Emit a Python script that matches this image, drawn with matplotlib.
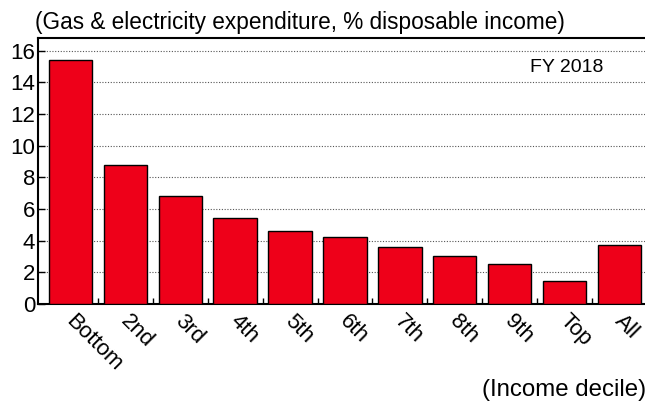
import matplotlib
matplotlib.use('Agg')
import matplotlib.pyplot as plt
import numpy as np

plt.rcParams['font.family'] = ['Liberation Sans', 'DejaVu Sans']

# income deciles
categories = ['Bottom', '2nd', '3rd', '4th', '5th', '6th', '7th', '8th', '9th', 'Top', 'All']
values = [15.4, 8.8, 6.8, 5.4, 4.6, 4.25, 3.6, 3.05, 2.5, 1.45, 3.7]
yticks = [0, 2, 4, 6, 8, 10, 12, 14, 16]

fig = plt.figure(figsize=(6.45, 4.03), dpi=100)
ax = fig.add_axes([0.059, 0.246, 0.95, 0.66])

x = np.arange(len(categories))
ax.bar(x, values, width=0.79, color='#EE0019', edgecolor='black', linewidth=1.0, zorder=3)

ax.set_ylim(0, 16.8)
ax.set_xlim(-0.59, 10.57)
ax.set_yticks(yticks)
ax.set_yticklabels([str(t) for t in yticks], fontsize=16)
ax.yaxis.grid(True, linestyle=(0, (1, 1.5)), color='#555555', linewidth=0.8, zorder=0)

# ticks between the bars, labels under the bars
ax.set_xticks(x[:-1] + 0.5)
ax.set_xticklabels([])
ax.tick_params(axis='x', direction='in', length=4, width=1)
ax.tick_params(axis='y', direction='in', length=5, width=1, pad=2)
for xi, lab in zip(x, categories):
    ax.text(xi + 0.1, -0.4, lab, rotation=-45, ha='left', va='top',
            rotation_mode='anchor', fontsize=16)

for s in ax.spines.values():
    s.set_linewidth(1.5)
    s.set_color('black')

ax.text(0.863, 0.887, 'FY 2018', transform=ax.transAxes, ha='center', va='center', fontsize=14)
fig.text(0.054, 0.945, '(Gas & electricity expenditure, % disposable income)',
         ha='left', va='center', fontsize=16.3)
fig.text(0.747, 0.032, '(Income decile)', ha='left', va='center', fontsize=17.3)

fig.savefig('out.png', dpi=100)
